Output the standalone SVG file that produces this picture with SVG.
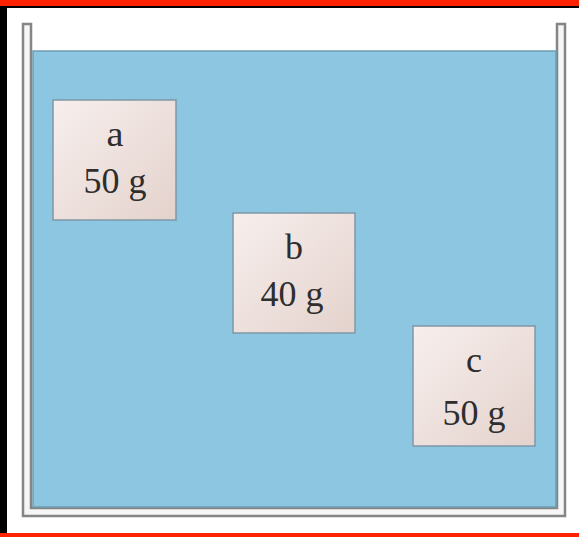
<svg xmlns="http://www.w3.org/2000/svg" width="579" height="537" viewBox="0 0 579 537">
  <defs>
    <linearGradient id="blockFill" x1="0" y1="0" x2="1" y2="1">
      <stop offset="0" stop-color="#f7efed"/>
      <stop offset="1" stop-color="#e4d2cc"/>
    </linearGradient>
    <style>
      .block { fill: url(#blockFill); stroke: #7f98a6; stroke-width: 1.5; }
      .lbl { font-family: "Liberation Serif", "Times New Roman", serif; font-size: 35px; fill: #2e2e2e; text-anchor: middle; }
    </style>
  </defs>
  <rect x="0" y="0" width="579" height="537" fill="#ffffff"/>
  <!-- frame -->
  <rect x="0" y="0" width="579" height="6" fill="#ff2200"/>
  <rect x="0" y="6" width="579" height="2" fill="#000000"/>
  <rect x="0" y="6" width="7" height="527" fill="#000000"/>
  <rect x="0" y="533" width="579" height="4" fill="#ff2200"/>
  <!-- container -->
  <g id="container">
    <path d="M23,24 H31 V508 H557 V24 H565 V516 H23 Z" fill="#f6f6f6" stroke="#858585" stroke-width="2.5"/>
    <rect id="water" x="33" y="51" width="523" height="456" fill="#8dc6e0" stroke="#6f9db1" stroke-width="1.5"/>
  </g>
  <g id="block-a">
    <rect class="block" x="53" y="100" width="123" height="120"/>
    <text class="lbl" x="115" y="146" textLength="17" lengthAdjust="spacingAndGlyphs">a</text>
    <text class="lbl" x="115" y="193" textLength="63" lengthAdjust="spacingAndGlyphs">50 g</text>
  </g>
  <g id="block-b">
    <rect class="block" x="233" y="213" width="122" height="120"/>
    <text class="lbl" x="294" y="259" textLength="18" lengthAdjust="spacingAndGlyphs">b</text>
    <text class="lbl" x="292" y="306" textLength="63" lengthAdjust="spacingAndGlyphs">40 g</text>
  </g>
  <g id="block-c">
    <rect class="block" x="413" y="326" width="122" height="120"/>
    <text class="lbl" x="474" y="372" textLength="16" lengthAdjust="spacingAndGlyphs">c</text>
    <text class="lbl" x="474" y="425" textLength="63" lengthAdjust="spacingAndGlyphs">50 g</text>
  </g>
  <g id="connectors"/>
</svg>
